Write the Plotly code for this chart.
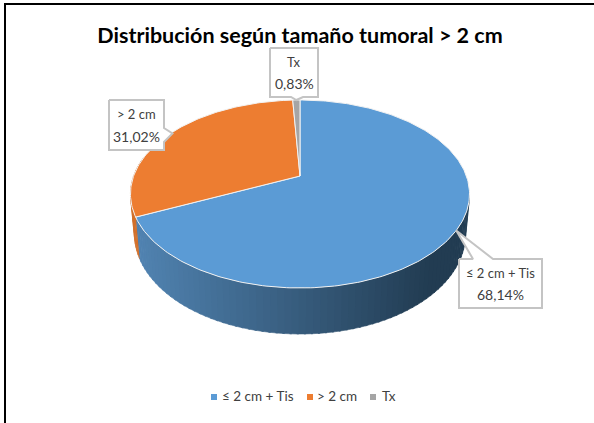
import numpy as np
import plotly.graph_objects as go

categories = ["≤ 2 cm + Tis", "> 2 cm", "Tx"]
values = [68.14, 31.02, 0.83]
value_labels = ["68,14%", "31,02%", "0,83%"]
colors = ["#5B9BD5", "#ED7D31", "#A5A5A5"]
title = "Distribución según tamaño tumoral > 2 cm"

CX, CY, R, S, K = 300.0, 176.0, 166.4, 90.55, 0.1915
FONT = "Lato"

def top(t):
    u, v = np.sin(t), np.cos(t)
    w = 1 + K * v
    return CX + R * u / w, CY - S * v / w

def bottom(t):
    x, y = top(t)
    v = np.cos(t)
    return CX + (x - CX) * 0.977, y + 38 - 8 * v

def lerp(c1, c2, f):
    c = [round(a + (b - a) * f) for a, b in zip(c1, c2)]
    return f"rgb({c[0]},{c[1]},{c[2]})"

fig = go.Figure()
total = sum(values)
edges = np.concatenate([[0], np.cumsum(values)]) / total * 2 * np.pi

# Side wall, front half of the disc only
front_start, front_end = np.pi / 2 + 0.2, 3 * np.pi / 2 + 0.2
strips = np.linspace(front_start, front_end, 90)
for a, b in zip(strips[:-1], strips[1:]):
    m = (a + b) / 2
    ts = np.linspace(a, b + 0.01, 4)
    xs = np.concatenate([top(ts)[0], bottom(ts[::-1])[0]])
    ys = np.concatenate([top(ts)[1], bottom(ts[::-1])[1]])
    idx = np.searchsorted(edges, m, side="right") - 1
    f = np.clip((top(m)[0] - 140) / 290, 0, 1)
    if idx == 0:
        col = lerp((80, 130, 176), (34, 60, 82), f)
    else:
        col = "#D2702B"
    fig.add_trace(go.Scatter(x=xs, y=ys, mode="lines", fill="toself", fillcolor=col,
                             line=dict(width=0.6, color=col), hoverinfo="skip", showlegend=False))

# Top faces
for i, c in enumerate(colors):
    n = max(int((edges[i + 1] - edges[i]) * 60), 6)
    ts = np.linspace(edges[i], edges[i + 1], n)
    x, y = top(ts)
    fig.add_trace(go.Scatter(x=np.r_[CX, x, CX], y=np.r_[CY, y, CY], mode="lines",
                             fill="toself", fillcolor=c, line=dict(color="#F2F2F2", width=1),
                             hoverinfo="skip", showlegend=False))

# Legend row: marker x, text left x
legend_marker_x = [214, 310, 373]
legend_text_x = [222, 317, 382]
for name, c, mx, tx in zip(categories, colors, legend_marker_x, legend_text_x):
    fig.add_trace(go.Scatter(x=[mx], y=[397], mode="markers", name=name, hoverinfo="skip",
                             marker=dict(symbol="square", size=6, color=c), showlegend=False))
    fig.add_annotation(x=tx, y=396, text=name, showarrow=False, xanchor="left", xshift=-2,
                       font=dict(family=FONT, size=13.5, color="#404040"))

# Callouts: box (x0, y0, x1, y1) + tail base, tail tip from the wedge mid-angle
boxes = [(459, 259, 542, 308), (109, 100, 164, 150), (270, 48, 318, 97)]
tails = [("top", 473, 493), ("right", 128, 142), ("bottom", 291, 303)]
mids = (edges[:-1] + edges[1:]) / 2
for i, ((x0, y0, x1, y1), (side, a, b)) in enumerate(zip(boxes, tails)):
    tx, ty = top(mids[i])
    if side == "top":
        px = [x0, a, tx, b, x1, x1, x0, x0]
        py = [y0, y0, ty, y0, y0, y1, y1, y0]
    elif side == "right":
        px = [x0, x1, x1, tx + 2, x1, x1, x0, x0]
        py = [y0, y0, a, ty, b, y1, y1, y0]
    else:
        px = [x0, x1, x1, b, tx, a, x0, x0]
        py = [y0, y0, y1, y1, ty, y1, y1, y0]
    fig.add_trace(go.Scatter(x=px, y=py, mode="lines", fill="toself", fillcolor="white",
                             line=dict(color="#C4C4C4", width=2), hoverinfo="skip", showlegend=False))
    mid_x, mid_y = (x0 + x1) / 2, (y0 + y1) / 2
    fig.add_annotation(x=mid_x, y=mid_y - 11, text=categories[i], showarrow=False,
                       font=dict(family=FONT, size=13, color="#404040"))
    fig.add_annotation(x=mid_x, y=mid_y + 11, text=value_labels[i], showarrow=False,
                       font=dict(family=FONT, size=14, color="#404040"))

fig.update_layout(
    width=594, height=423, margin=dict(l=0, r=0, t=0, b=0),
    paper_bgcolor="white", plot_bgcolor="white",
    font=dict(family=FONT),
    showlegend=False,
    title=dict(text=f"<b>{title}</b>", x=300 / 594, xanchor="center", y=1 - 35 / 423, yanchor="middle",
               font=dict(family=FONT, size=21.5, color="black")),
    xaxis=dict(range=[0, 594], visible=False, fixedrange=True),
    yaxis=dict(range=[423, 0], visible=False, fixedrange=True),
    shapes=[
        dict(type="line", xref="x", yref="y", x0=4, x1=594, y0=4, y1=4, line=dict(color="black", width=2)),
        dict(type="line", xref="x", yref="y", x0=5, x1=5, y0=4, y1=423, line=dict(color="black", width=2)),
    ],
)
fig.write_html("out.html", config={"displayModeBar": False},
               post_script="document.body.style.margin='0';document.body.style.overflow='hidden';")
